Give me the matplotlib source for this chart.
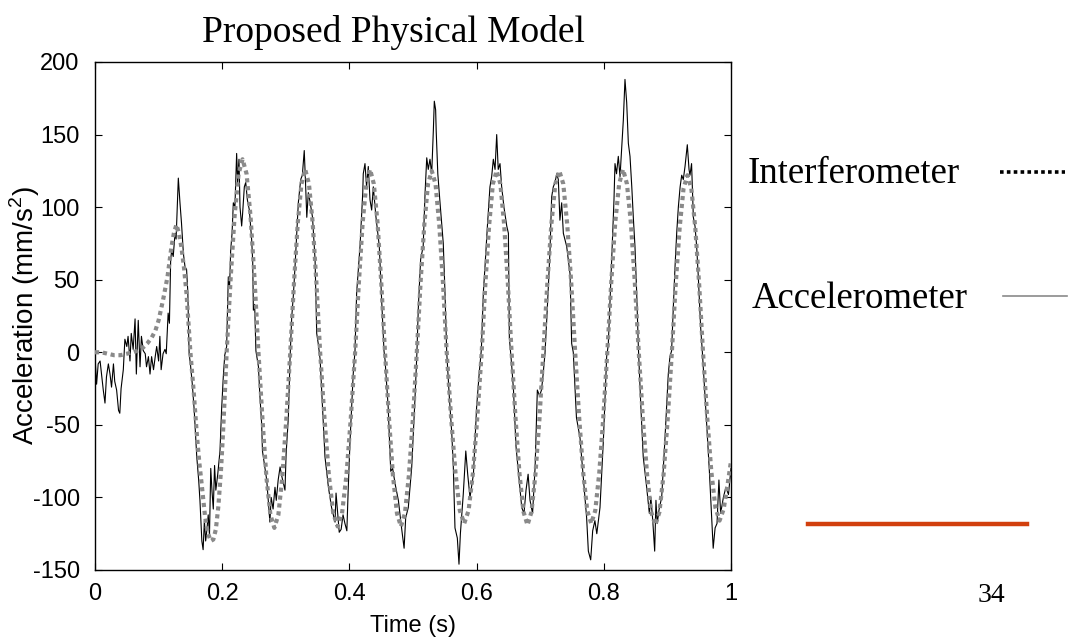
import matplotlib
matplotlib.use("Agg")
import matplotlib.pyplot as plt
from matplotlib.lines import Line2D

plt.rcParams['font.family'] = ['Liberation Sans', 'DejaVu Sans']
plt.rcParams['mathtext.fontset'] = 'custom'
plt.rcParams['mathtext.rm'] = 'Liberation Sans'
plt.rcParams['axes.unicode_minus'] = False

# interferometer / model trace (grey dotted)
interf_t = [0.000, 0.010, 0.020, 0.030, 0.040, 0.050, 0.060, 0.066, 0.075, 0.082, 0.089, 0.095,
            0.100, 0.107, 0.114, 0.120, 0.124, 0.128, 0.132, 0.136, 0.140, 0.144, 0.147,
            0.150, 0.155, 0.160, 0.164, 0.168, 0.173, 0.177, 0.182, 0.186, 0.190, 0.194, 0.198, 0.201, 0.204,
            0.207, 0.2133, 0.2195, 0.2258, 0.232, 0.2383, 0.2445, 0.2508,
            0.257, 0.2633, 0.2695, 0.2758, 0.282, 0.2883, 0.2945, 0.3008,
            0.307, 0.3129, 0.3188, 0.3246, 0.3305, 0.3364, 0.3423, 0.3481,
            0.354, 0.3609, 0.3678, 0.3746, 0.3815, 0.3884, 0.3953, 0.4021,
            0.409, 0.4149, 0.4208, 0.4266, 0.4325, 0.4384, 0.4443, 0.4501,
            0.456, 0.4623, 0.4685, 0.4748, 0.481, 0.4873, 0.4935, 0.4998,
            0.506, 0.5119, 0.5178, 0.5236, 0.5295, 0.5354, 0.5413, 0.5471,
            0.553, 0.5599, 0.5668, 0.5736, 0.5805, 0.5874, 0.5943, 0.6011,
            0.608, 0.6139, 0.6198, 0.6256, 0.6315, 0.6374, 0.6433, 0.6491,
            0.655, 0.6613, 0.6675, 0.6738, 0.680, 0.6863, 0.6925, 0.6988,
            0.705, 0.7113, 0.7175, 0.7238, 0.730, 0.7363, 0.7425, 0.7488,
            0.755, 0.7613, 0.7676, 0.7739, 0.7803, 0.7866, 0.7929, 0.7992,
            0.8055, 0.8117, 0.8179, 0.8241, 0.8303, 0.8364, 0.8426, 0.8488,
            0.855, 0.8615, 0.868, 0.8745, 0.881, 0.8875, 0.894, 0.9005,
            0.907, 0.9131, 0.9193, 0.9254, 0.9315, 0.9376, 0.9438, 0.9499,
            0.956, 0.9625, 0.969, 0.9755, 0.982, 0.9885, 0.995, 1.000]
interf_a = [0, 0, -1, -2, -2, -1, 0, 1, 3, 6, 10, 15,
            22, 36, 52, 72, 82, 88, 82, 72, 58, 40, 20,
            0, -26, -56, -76, -92, -113, -124, -130, -129, -122, -106, -82, -58, -30,
            0, 51, 94, 123, 133, 123, 94, 51,
            0, -46, -86, -112, -121, -112, -86, -46,
            0, 48, 89, 116, 126, 116, 89, 48,
            0, -46, -85, -111, -120, -111, -85, -46,
            0, 48, 89, 116, 126, 116, 89, 48,
            0, -46, -85, -111, -120, -111, -85, -46,
            0, 48, 88, 116, 125, 116, 88, 48,
            0, -45, -83, -109, -118, -109, -83, -45,
            0, 48, 88, 116, 125, 116, 88, 48,
            0, -46, -84, -110, -119, -110, -84, -46,
            0, 48, 88, 116, 125, 116, 88, 48,
            0, -45, -83, -109, -118, -109, -83, -45,
            0, 48, 89, 116, 126, 116, 89, 48,
            0, -46, -84, -110, -119, -110, -84, -46,
            0, 47, 86, 113, 122, 113, 86, 47,
            0, -44, -82, -107, -116, -108, -90, -75]

# accelerometer trace (thin black)
accel_t = [0.000, 0.0025, 0.005, 0.008, 0.010, 0.013, 0.0157, 0.018, 0.021, 0.0236, 0.026, 0.029,
           0.031, 0.034, 0.037, 0.039, 0.041, 0.0445, 0.047, 0.050, 0.052, 0.055, 0.057, 0.060,
           0.063, 0.065, 0.068, 0.0708, 0.073, 0.076, 0.079, 0.081, 0.084, 0.0865, 0.089, 0.092,
           0.095, 0.097, 0.100, 0.102, 0.104, 0.107, 0.110, 0.112, 0.115, 0.117, 0.119, 0.1205,
           0.123, 0.1258, 0.1275, 0.1294, 0.131, 0.1336, 0.136, 0.139, 0.1415, 0.144, 0.146, 0.147,
           0.148,
           0.150, 0.153, 0.156, 0.160, 0.163, 0.165, 0.168, 0.170, 0.172, 0.174, 0.176, 0.178,
           0.180, 0.182, 0.184, 0.186, 0.188, 0.190, 0.193, 0.1965, 0.199, 0.2017, 0.204, 0.207,
           0.2096, 0.2115, 0.2133, 0.2155, 0.2175, 0.220, 0.2227, 0.2243, 0.2264, 0.228, 0.2306, 0.232,
           0.2348, 0.237, 0.2396, 0.2427, 0.2464, 0.248, 0.249, 0.251, 0.253,
           0.257, 0.259, 0.262, 0.2633, 0.266, 0.270, 0.275, 0.277, 0.280, 0.283, 0.285, 0.288,
           0.291, 0.294, 0.2987, 0.3005, 0.304, 0.3066,
           0.3093, 0.312, 0.3145, 0.317, 0.3197, 0.3234, 0.326, 0.329, 0.331, 0.333, 0.3354, 0.338,
           0.342, 0.346, 0.3486, 0.351,
           0.354, 0.358, 0.3616, 0.367, 0.372, 0.3774, 0.379, 0.384, 0.387, 0.390, 0.393, 0.396,
           0.398, 0.401, 0.406, 0.4088,
           0.4114, 0.4167, 0.421, 0.4218, 0.4245, 0.427, 0.4297, 0.4324, 0.435, 0.4376, 0.4418, 0.447,
           0.4507, 0.4544,
           0.456, 0.461, 0.465, 0.468, 0.472, 0.477, 0.482, 0.486, 0.4885, 0.4926, 0.498, 0.503,
           0.506,
           0.5084, 0.512, 0.516, 0.519, 0.5216, 0.524, 0.5267, 0.5294, 0.532, 0.5335, 0.5356, 0.5365,
           0.539, 0.5425, 0.5476, 0.5503, 0.553,
           0.557, 0.561, 0.5634, 0.566, 0.5697, 0.5723, 0.5745, 0.579, 0.583, 0.586, 0.5896, 0.595,
           0.600, 0.604, 0.6075,
           0.6106, 0.6132, 0.617, 0.621, 0.6237, 0.6263, 0.629, 0.6316, 0.634, 0.6368, 0.6394, 0.643,
           0.6474, 0.650, 0.6515, 0.655,
           0.658, 0.662, 0.6656, 0.671, 0.6745, 0.6777, 0.681, 0.684, 0.688, 0.692, 0.6955, 0.699,
           0.702, 0.704, 0.7075,
           0.710, 0.7128, 0.7154, 0.718, 0.7206, 0.7233, 0.726, 0.7285, 0.731, 0.7338, 0.7364, 0.7416,
           0.7469, 0.7495, 0.752,
           0.757, 0.7626, 0.768, 0.773, 0.7757, 0.7794, 0.7825, 0.786, 0.789, 0.794, 0.7993, 0.8045,
           0.807, 0.8097, 0.8124, 0.816, 0.8176, 0.820, 0.8228, 0.8255, 0.828, 0.8307, 0.8333, 0.836,
           0.8386, 0.8412, 0.844, 0.8464, 0.849, 0.8517, 0.8543,
           0.858, 0.862, 0.8674, 0.8716, 0.874, 0.877, 0.880, 0.882, 0.884, 0.887, 0.891, 0.896,
           0.9014, 0.904,
           0.9066, 0.9093, 0.912, 0.9146, 0.9172, 0.920, 0.9225, 0.925, 0.9277, 0.9313, 0.934, 0.9355,
           0.938, 0.9408, 0.9434, 0.946, 0.9486, 0.9523, 0.955,
           0.9617, 0.966, 0.9696, 0.972, 0.975, 0.978, 0.981, 0.9837, 0.988, 0.992, 0.996, 1.000]
accel_a = [-3, -22, -8, -6, -14, -26, -35, -17, -8, -15, -24, -8,
           -20, -26, -40, -42, -25, -12, 9, 4, 11, -6, 13, 2,
           23, -15, 22, -10, 11, 1, -1, -10, -3, -15, -3, -12,
           -2, 4, -6, 11, -12, -1, 2, -1, 27, 20, 64, 70,
           66, 82, 78, 100, 120, 103, 89, 68, 59, 57, 41, 17,
           -1,
           -8, -22, -40, -72, -88, -102, -130, -136, -116, -130, -122, -112,
           -126, -80, -96, -108, -78, -95, -84, -68, -40, -17, -2, 4,
           52, 44, 70, 82, 103, 100, 137, 117, 133, 100, 87, 95,
           114, 117, 105, 98, 77, 62, 29, 33, 1,
           -10, -28, -49, -68, -76, -88, -117, -100, -108, -93, -102, -88,
           -79, -86, -95, -70, -45, -5,
           24, 40, 59, 80, 103, 119, 122, 139, 117, 93, 110, 104,
           93, 64, 13, 6,
           -5, -40, -72, -93, -107, -117, -97, -124, -122, -112, -118, -123,
           -96, -61, -15, 1,
           41, 73, 110, 123, 130, 114, 128, 105, 98, 114, 93, 73,
           36, 1,
           -5, -38, -82, -80, -91, -102, -121, -135, -114, -107, -79, -33,
           -2,
           31, 64, 73, 110, 134, 126, 133, 123, 153, 173, 167, 152,
           123, 103, 75, 41, 0,
           -30, -56, -79, -121, -128, -146, -125, -98, -68, -84, -100, -84,
           -38, -15, 2,
           41, 59, 87, 114, 121, 133, 126, 150, 126, 130, 114, 100,
           87, 82, 10, -8,
           -26, -65, -82, -107, -111, -95, -84, -102, -111, -79, -26, -30,
           -26, -18, -1,
           20, 45, 70, 107, 114, 117, 123, 119, 91, 103, 82, 73,
           54, 6, 0,
           -45, -59, -88, -114, -137, -143, -123, -116, -125, -107, -61, -3,
           5, 34, 64, 105, 130, 123, 135, 121, 140, 160, 188, 172,
           144, 135, 114, 93, 73, 41, 4,
           -35, -72, -93, -111, -100, -116, -137, -102, -118, -108, -100, -61,
           -15, -3,
           1, 31, 59, 82, 100, 114, 122, 119, 128, 143, 126, 122,
           130, 93, 87, 73, 52, 17, 0,
           -49, -82, -114, -135, -121, -118, -88, -111, -100, -93, -98, -80]

x_ticks = [0, 0.2, 0.4, 0.6, 0.8, 1]
x_tick_labels = ['0', '0.2', '0.4', '0.6', '0.8', '1']
y_ticks = [-150, -100, -50, 0, 50, 100, 150, 200]

fig = plt.figure(figsize=(10.77, 6.40), dpi=100)
ax = fig.add_axes([95 / 1077, 1 - 570 / 640, 636 / 1077, 508 / 640])

ax.plot(accel_t, accel_a, color='black', lw=0.8, zorder=2)
ax.plot(interf_t, interf_a, color='#8a8a8a', lw=3.0, linestyle=(0, (1.0, 0.9)), zorder=3)

ax.set_xlim(0, 1)
ax.set_ylim(-150, 200)
ax.set_xticks(x_ticks)
ax.set_xticklabels(x_tick_labels)
ax.set_yticks(y_ticks)
ax.tick_params(direction='in', top=True, right=True, length=5, width=0.8, labelsize=17)
ax.tick_params(axis='x', pad=9)
ax.tick_params(axis='y', pad=11)
for s in ax.spines.values():
    s.set_linewidth(1.0)

ax.set_xlabel('Time (s)', fontsize=17)
ax.set_ylabel('Acceleration (mm/s$^2$)', fontsize=20)
ax.xaxis.set_label_coords(0.5, -0.088)
ax.yaxis.set_label_coords(-0.083, 0.5)

serif = ['Liberation Serif', 'DejaVu Serif']
fig.text(393 / 1077, 1 - 42 / 640, 'Proposed Physical Model', family=serif, fontsize=27,
         ha='center', va='baseline')

# legend drawn on the slide, outside the axes
fig.text(748 / 1077, 1 - 183 / 640, 'Interferometer', family=serif, fontsize=26.5, va='baseline')
fig.text(752 / 1077, 1 - 308 / 640, 'Accelerometer', family=serif, fontsize=26.5, va='baseline')
fig.add_artist(Line2D([1000 / 1077, 1065 / 1077], [1 - 172 / 640] * 2, color='black', lw=2.6,
                      linestyle=(0, (1.0, 0.9))))
fig.add_artist(Line2D([1003 / 1077, 1067 / 1077], [1 - 296 / 640] * 2, color='#8a8a8a', lw=1.2))

# slide decoration: accent rule and page number
fig.add_artist(Line2D([808 / 1077, 1027 / 1077], [1 - 524 / 640] * 2, color='#D2400E', lw=3.2))
fig.text(978 / 1077, 1 - 602 / 640, '34', family=serif, fontsize=20, va='baseline')

fig.savefig('out.png', dpi=100)
